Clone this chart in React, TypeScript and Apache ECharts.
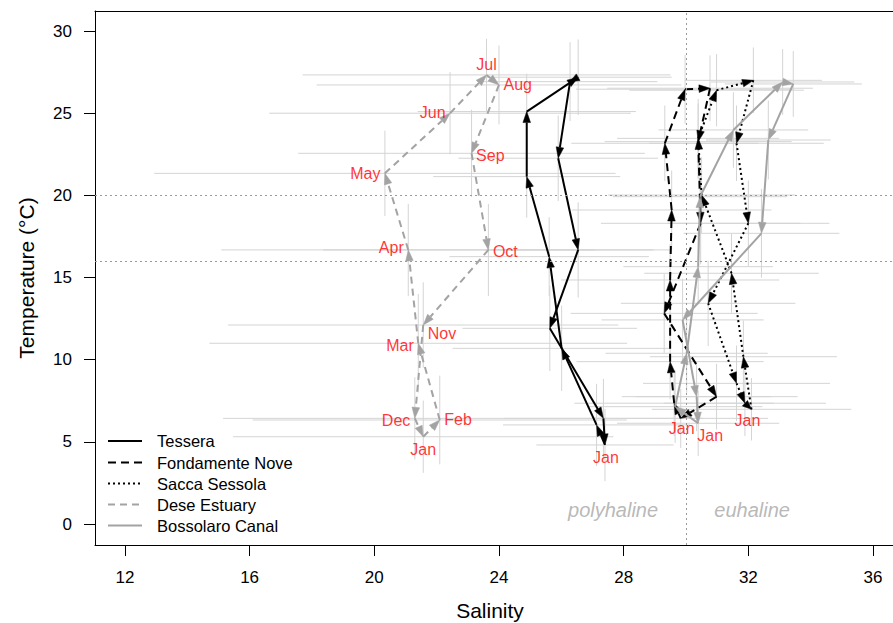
import React, { useEffect, useRef } from 'react';
import * as echarts from 'echarts';

// ---------- data ----------
const salinityTicks = [12, 16, 20, 24, 28, 32, 36];
const temperatureTicks = [0, 5, 10, 15, 20, 25, 30];
const months = ['Jan', 'Feb', 'Mar', 'Apr', 'May', 'Jun', 'Jul', 'Aug', 'Sep', 'Oct', 'Nov', 'Dec'];

const tesseraSal = [27.4, 27.13, 26.01, 25.61, 24.89, 24.89, 26.54, 26.28, 25.9, 26.54, 25.63, 27.35];
const tesseraTemp = [4.81, 6.03, 10.69, 16.27, 21.14, 25.1, 27.19, 26.92, 22.26, 16.68, 11.91, 6.43];
const tesseraSalSd = [2.2, 3.0, 3.5, 3.2, 3.0, 3.5, 3.0, 2.8, 3.2, 3.0, 2.8, 3.2];
const tesseraTempSd = [2.2, 2.5, 2.6, 2.4, 2.5, 2.3, 2.3, 2.4, 2.6, 2.9, 2.6, 2.4];

const fondamenteSal = [29.83, 29.62, 29.49, 29.49, 29.54, 29.32, 29.97, 30.77, 30.39, 30.47, 29.3, 30.98];
const fondamenteTemp = [6.43, 7.35, 9.88, 14.85, 19.11, 23.17, 26.46, 26.52, 23.27, 18.3, 12.82, 7.75];
const fondamenteSalSd = [2.8, 3.2, 3.0, 3.5, 3.2, 3.0, 3.5, 3.3, 3.0, 3.2, 3.0, 2.6];
const fondamenteTempSd = [1.8, 2.0, 2.3, 2.2, 2.4, 2.3, 2.1, 2.0, 2.3, 2.5, 2.4, 2.0];

const saccaSal = [32.1, 31.84, 31.46, 30.5, 30.39, 30.98, 32.16, 31.62, 32.0, 30.71, 31.62, 31.89];
const saccaTemp = [6.98, 10.18, 15.26, 20.02, 23.47, 26.4, 27.0, 23.17, 18.3, 13.43, 8.56, 7.35];
const saccaSalSd = [3.2, 3.0, 2.8, 3.0, 2.6, 2.8, 2.2, 2.8, 2.6, 2.8, 3.0, 2.6];
const saccaTempSd = [1.9, 2.2, 2.4, 2.3, 2.4, 2.2, 2.0, 2.3, 2.6, 2.6, 2.3, 2.0];

const deseSal = [21.57, 22.1, 21.41, 21.09, 20.34, 22.43, 23.6, 24.0, 23.12, 23.66, 21.57, 21.3];
const deseTemp = [5.31, 6.33, 11.0, 16.68, 21.34, 25.0, 27.33, 26.72, 22.56, 16.68, 12.11, 6.43];
const deseSalSd = [6.1, 6.0, 6.7, 6.0, 7.4, 5.8, 5.9, 5.85, 5.56, 5.3, 6.26, 6.15];
const deseTempSd = [2.2, 2.7, 3.0, 2.8, 2.6, 2.5, 2.2, 2.4, 2.65, 2.8, 2.6, 2.5];

const bossolaroSal = [30.39, 29.65, 30.02, 30.39, 30.45, 31.52, 33.1, 33.44, 32.64, 32.42, 29.89, 30.34];
const bossolaroTemp = [6.13, 7.14, 10.39, 15.66, 19.92, 23.98, 26.9, 26.78, 23.37, 17.69, 12.42, 7.75];
const bossolaroSalSd = [2.6, 2.8, 2.6, 2.4, 2.8, 2.4, 2.3, 2.2, 2.0, 2.5, 2.6, 2.4];
const bossolaroTempSd = [2.0, 2.2, 2.4, 2.3, 2.4, 2.3, 2.0, 2.0, 2.4, 2.7, 2.5, 2.1];

const refSalinity = [30];
const refTemperature = [20, 16];

const zoneNames = ['polyhaline', 'euhaline'];
const zoneSal = [27.66, 32.12];
const zoneTemp = [0.85, 0.85];

// ---------- layout / style ----------
const FONT = '"Liberation Sans", Arial, Helvetica, sans-serif';
const deseLabelPos = ['bottom', 'right', 'left', 'left', 'left', 'left', 'top', 'right', 'right', 'right', 'right', 'left'];
const deseLabelOffset: number[][] = [[0, 0], [0, 0], [0, 2], [0, -2], [0, 0], [0, -1], [0, 2], [0, 0], [0, 2], [0, 2], [0, 8], [0, 2]];

type Site = {
  name: string;
  sal: number[];
  temp: number[];
  salSd: number[];
  tempSd: number[];
  color: string;
  dash: number[] | null;
  janOffset: number[] | null;
};

const sites: Site[] = [
  { name: 'Tessera', sal: tesseraSal, temp: tesseraTemp, salSd: tesseraSalSd, tempSd: tesseraTempSd, color: '#000000', dash: null, janOffset: [1, 0] },
  { name: 'Fondamente Nove', sal: fondamenteSal, temp: fondamenteTemp, salSd: fondamenteSalSd, tempSd: fondamenteTempSd, color: '#000000', dash: [8, 5], janOffset: [1, -2] },
  { name: 'Sacca Sessola', sal: saccaSal, temp: saccaTemp, salSd: saccaSalSd, tempSd: saccaTempSd, color: '#000000', dash: [2, 3], janOffset: [-4, -1] },
  { name: 'Dese Estuary', sal: deseSal, temp: deseTemp, salSd: deseSalSd, tempSd: deseTempSd, color: '#a3a3a3', dash: [7, 5], janOffset: null },
  { name: 'Bossolaro Canal', sal: bossolaroSal, temp: bossolaroTemp, salSd: bossolaroSalSd, tempSd: bossolaroTempSd, color: '#a3a3a3', dash: null, janOffset: [12, 0] },
];

function buildOption() {
  const series: any[] = [];

  // error bars
  sites.forEach((site) => {
    series.push({
      type: 'custom',
      name: site.name + ' sd',
      silent: true,
      clip: true,
      z: 1,
      data: site.sal.map((s, i) => [s, site.temp[i], site.salSd[i], site.tempSd[i]]),
      encode: { x: 0, y: 1 },
      renderItem: (_p: any, api: any) => {
        const s = api.value(0), t = api.value(1), es = api.value(2), et = api.value(3);
        const a = api.coord([s - es, t]);
        const b = api.coord([s + es, t]);
        const c = api.coord([s, t - et]);
        const d = api.coord([s, t + et]);
        const st = { stroke: '#d4d4d4', lineWidth: 1 };
        return {
          type: 'group',
          children: [
            { type: 'line', shape: { x1: a[0], y1: a[1], x2: b[0], y2: b[1] }, style: st },
            { type: 'line', shape: { x1: c[0], y1: c[1], x2: d[0], y2: d[1] }, style: st },
          ],
        };
      },
    });
  });

  // reference lines
  series.push({
    type: 'scatter',
    data: [],
    silent: true,
    z: 2,
    markLine: {
      silent: true,
      symbol: 'none',
      label: { show: false },
      lineStyle: { color: '#9a9a9a', width: 1, type: [2, 3] },
      data: [
        ...refSalinity.map((v) => ({ xAxis: v })),
        ...refTemperature.map((v) => ({ yAxis: v })),
      ],
    },
  });

  // paths with arrows
  sites.forEach((site, si) => {
    const n = site.sal.length;
    const segs = site.sal.map((s, i) => [s, site.temp[i], site.sal[(i + 1) % n], site.temp[(i + 1) % n]]);
    series.push({
      type: 'custom',
      name: site.name,
      silent: true,
      z: 3 + si,
      data: segs,
      encode: { x: [0, 2], y: [1, 3] },
      renderItem: (_p: any, api: any) => {
        const p1 = api.coord([api.value(0), api.value(1)]);
        const p2 = api.coord([api.value(2), api.value(3)]);
        const dx = p2[0] - p1[0];
        const dy = p2[1] - p1[1];
        const len = Math.sqrt(dx * dx + dy * dy) || 1;
        const ux = dx / len, uy = dy / len;
        const L = Math.min(11, len);
        const W = 3.8;
        const bx = p2[0] - ux * L, by = p2[1] - uy * L;
        const pts = [
          [p2[0], p2[1]],
          [bx - uy * W, by + ux * W],
          [bx + uy * W, by - ux * W],
        ];
        const lineStyle: any = { stroke: site.color, lineWidth: 2, fill: null };
        if (site.dash) lineStyle.lineDash = site.dash;
        return {
          type: 'group',
          children: [
            { type: 'line', shape: { x1: p1[0], y1: p1[1], x2: bx, y2: by }, style: lineStyle },
            { type: 'polygon', shape: { points: pts }, style: { fill: site.color, stroke: site.color, lineWidth: 0.5 } },
          ],
        };
      },
    });
  });

  // month labels
  const labelBase = { show: true, color: '#ff0000', fontSize: 16, fontFamily: FONT, distance: 4 };
  series.push({
    type: 'scatter',
    name: 'Dese labels',
    silent: true,
    z: 10,
    symbolSize: 1,
    itemStyle: { color: 'transparent' },
    data: deseSal.map((s, i) => ({
      value: [s, deseTemp[i]],
      label: { ...labelBase, position: deseLabelPos[i], offset: deseLabelOffset[i], formatter: months[i] },
    })),
  });
  sites.forEach((site) => {
    if (!site.janOffset) return;
    series.push({
      type: 'scatter',
      name: site.name + ' Jan',
      silent: true,
      z: 10,
      symbolSize: 1,
      itemStyle: { color: 'transparent' },
      data: [
        {
          value: [site.sal[0], site.temp[0]],
          label: { ...labelBase, position: 'bottom', offset: site.janOffset, formatter: months[0] },
        },
      ],
    });
  });

  // zone names
  series.push({
    type: 'scatter',
    name: 'zones',
    silent: true,
    z: 10,
    symbolSize: 1,
    itemStyle: { color: 'transparent' },
    data: zoneNames.map((nm, i) => ({
      value: [zoneSal[i], zoneTemp[i]],
      label: {
        show: true,
        position: 'inside',
        formatter: nm,
        color: '#a6a6a6',
        fontStyle: 'italic',
        fontSize: 20,
        fontFamily: FONT,
      },
    })),
  });

  // legend (graphic)
  const legendRows = [441, 462.5, 483.5, 504.5, 525.5];
  const legendChildren: any[] = [];
  sites.forEach((site, i) => {
    const y = legendRows[i];
    const st: any = { stroke: site.color, lineWidth: 2 };
    if (site.dash) st.lineDash = site.dash;
    legendChildren.push({ type: 'line', shape: { x1: 108, y1: y, x2: 142, y2: y }, style: st });
    legendChildren.push({
      type: 'text',
      x: 157,
      y: y,
      style: { text: site.name, fill: '#000', font: `16.5px ${FONT}`, verticalAlign: 'middle', textAlign: 'left' },
    });
  });

  return {
    animation: false,
    backgroundColor: '#ffffff',
    grid: { left: 95, top: 11, right: 0, bottom: 78 },
    xAxis: [
      {
        type: 'value',
        min: 11.04,
        max: 36.64,
        axisLine: { show: true, onZero: false, lineStyle: { color: '#000', width: 1 } },
        axisTick: { show: true, length: 11, lineStyle: { color: '#000' }, customValues: salinityTicks },
        axisLabel: { color: '#000', fontSize: 17, fontFamily: FONT, margin: 24, customValues: salinityTicks },
        splitLine: { show: false },
      },
      {
        type: 'value',
        position: 'top',
        min: 11.04,
        max: 36.64,
        axisLine: { show: true, onZero: false, lineStyle: { color: '#000', width: 1 } },
        axisTick: { show: false },
        axisLabel: { show: false },
        splitLine: { show: false },
      },
    ],
    yAxis: {
      type: 'value',
      min: -1.278,
      max: 31.22,
      name: 'Temperature (°C)',
      nameLocation: 'middle',
      nameGap: 58,
      nameTextStyle: { color: '#000', fontSize: 21, fontFamily: FONT },
      axisLine: { show: true, onZero: false, lineStyle: { color: '#000', width: 1 } },
      axisTick: { show: true, length: 11, lineStyle: { color: '#000' }, customValues: temperatureTicks },
      axisLabel: { color: '#000', fontSize: 17, fontFamily: FONT, margin: 23, customValues: temperatureTicks },
      splitLine: { show: false },
    },
    graphic: [
      { type: 'group', children: legendChildren },
      {
        type: 'text',
        x: 490,
        y: 610,
        style: { text: 'Salinity', fill: '#000', font: `21px ${FONT}`, textAlign: 'center', verticalAlign: 'middle' },
      },
    ],
    series,
  };
}

export default function App() {
  const ref = useRef<HTMLDivElement>(null);
  useEffect(() => {
    document.body.style.margin = '0';
    const chart = echarts.init(ref.current!, null, { renderer: 'svg' });
    chart.setOption(buildOption() as any);
    return () => chart.dispose();
  }, []);
  return <div ref={ref} style={{ width: 893, height: 623 }} />;
}
